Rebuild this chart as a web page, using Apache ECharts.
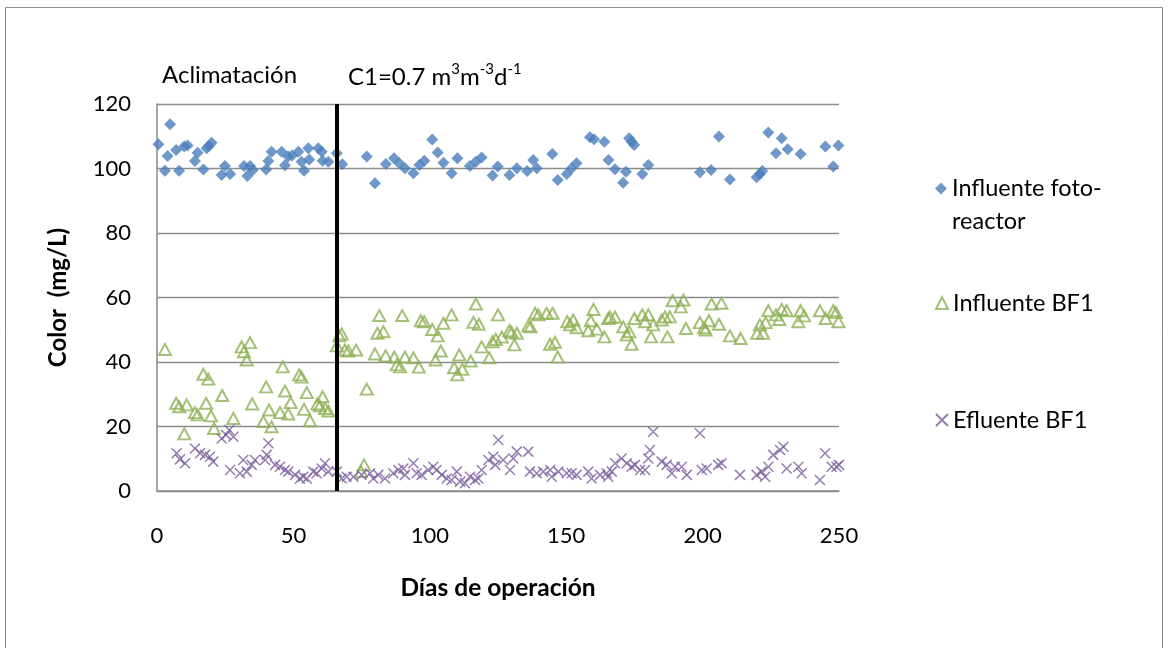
<!DOCTYPE html>
<html>
<head>
<meta charset="utf-8">
<script src="https://cdn.jsdelivr.net/npm/echarts@6/dist/echarts.min.js"></script>
<style>
html,body{margin:0;padding:0;background:#fff;}
#chart{width:1168px;height:648px;}
</style>
</head>
<body>
<div id="chart"></div>
<script>
// ---- Data ----
var xTicks = [0, 50, 100, 150, 200, 250];
var yTicks = [0, 20, 40, 60, 80, 100, 120];
var changeDay = 66;

var fotoDays = [0.5,2.9,3.9,4.8,7,8.1,10,11.2,13.9,14.9,17,18.2,19,20,23.7,24.9,26.8,31.9,33.1,34.1,35.1,40,40.8,42,45.7,46.9,48.1,49.5,51.8,53,53.9,55.5,55.8,59.1,60.4,60.7,62.8,65.9,67.9,76.9,79.9,83.9,86.9,88.8,90.9,94,96.2,98,100.9,102.9,105,108,110.1,114.7,116.9,119,123,124.9,129.2,131.9,135.7,137.9,139.2,144.9,146.9,150.2,152,153.8,158.7,160.2,164,165.5,167.9,170.9,171.9,173.1,174,174.9,177.9,180.1,199,203.1,206,210,219.8,221,221.9,224.1,226.9,229,231.2,235.9,245,247.9,249.8];
var fotoVals = [107.5,99.3,103.9,113.7,105.7,99.3,106.8,107.1,102.3,104.9,99.7,106.3,107,108,98,100.8,98.3,100.8,97.7,100.8,99.5,99.7,102.3,105.2,105.2,101,103.7,104,105.2,102.1,99.3,106.3,102.8,106.3,105.2,102.4,102.1,104.7,101.3,103.7,95.4,101.4,103.2,101.6,100.1,98.5,101.1,102.4,109,105,101.8,98.5,103.2,100.8,102.1,103.4,97.8,100.6,98,100.1,99.2,102.6,100.1,104.5,96.4,98.3,100.1,101.6,109.7,109.1,108.3,102.6,99.8,95.6,99,109.4,108.3,107.3,98.3,101.1,98.8,99.5,109.9,96.6,97.3,98.3,99.2,111.2,104.7,109.4,106,104.5,106.8,100.6,107.1];

var bf1InDays = [2.9,7,8.1,10,10.9,13.9,14.9,17,18,18.8,19.8,20.9,23.9,28,31,31.9,32.9,34.1,34.9,39,40,41.1,42,45.1,46.1,46.9,48.1,49,52.1,53,53.9,54.9,56.1,58.8,59.7,60.7,61.6,62.8,65.9,66.8,67.7,68.9,70.1,73,74.8,75.9,76.9,79.9,80.8,81.5,83,83.8,87,87.9,89.1,89.9,90.9,94,96,96.7,97.9,100.9,102.1,102.9,104,105,108,108.9,110.1,110.8,111.9,115,116,116.9,118,119,121.8,123,124.2,125,126.4,129.2,130,131,131.9,136.1,136.9,138.6,139.8,142.8,144.1,145,145.9,146.9,150.4,151.4,152.6,153.8,158.1,159,160,161.2,164,165.4,166.1,167.9,170.9,172.2,173.1,174,175,177.9,178.9,180.1,181.1,181.9,185,186.2,187.1,188,189,192,193,193.9,199,200.5,201.1,202.3,203.3,206,206.9,210,213.9,220,221,222.2,223.1,224.1,226.9,228.1,229,230.8,235.1,235.9,237.2,243,245.1,247.9,248.9,249.8];
var bf1InVals = [43.9,27.2,26.1,17.7,26.7,24.3,23.6,36.2,27.2,34.7,23.3,19.4,29.6,22.5,44.7,43.2,40.6,46,27,21.5,32.3,25.1,19.9,24.3,38.5,31,23.9,27.4,36,35.3,25.3,30.5,21.8,27,26.4,29.2,25.6,24.8,45,48.1,48.7,43.7,43.4,43.7,6,8.1,31.6,42.5,48.9,54.4,49.4,41.9,41.5,39.1,38.5,54.4,41.5,41.3,38.4,52.8,52.5,50.1,40.6,48.1,43.4,52,54.6,38.2,36,42.2,37.7,40.3,52.3,58,51.7,44.7,41.3,46.3,47,54.6,47.7,49.7,49.2,45.3,48.9,51.2,50.9,55.1,54.6,55.1,45.5,55.1,46.1,41.5,52.5,51.5,53,50.6,49.7,52.8,56.3,50.2,47.8,53.5,53.9,53.9,50.9,48.4,49.4,45.5,53.5,54.6,52.5,54.6,47.8,51.5,53,54,47.8,54,59,57.1,59.2,50.4,52.2,50.6,49.9,52.8,58,51.7,58.2,48.1,47.3,48.9,51.5,48.9,52.2,55.9,54.6,53.2,56.3,55.9,52.5,55.9,54.3,55.9,53.5,55.9,55.3,52.5];

var bf1OutDays = [7.2,8.4,10.3,13.9,15.8,17.6,19.4,20.6,23.7,25.3,26.5,28,26.8,30.4,31.6,32.9,34.7,35.9,39.6,40.2,40.8,43.3,45.1,46.9,48.1,50.6,52.4,53.6,54.9,57.3,58.5,60.4,61.6,62.8,65.9,67.7,69.5,72,75,78.1,79.3,81.1,83.6,86.6,88.5,90.3,90.9,94,95.2,97,99.4,101.3,102.5,104.4,106.2,108,109.9,111.1,112.9,114.7,116.6,117.8,119,121.5,123.3,124,125.1,126.9,129.4,130.6,131.9,136.1,136.7,139.2,141.6,144.1,144.7,147.1,150.2,152,153.8,158.1,159.3,162.4,164.8,165.4,166.7,167.9,170.3,172.2,174,175.2,177.1,178.9,180.1,180.7,181.9,185,186.8,188.7,189.9,192.3,194.2,199,199.7,201.5,205.7,207,213.7,219.8,221.6,222.9,224.1,225.9,228.4,229.6,230.8,235.1,236.3,243,244.9,247.3,249.1,250];
var bf1OutVals = [11.7,9.8,8.6,13.2,11.7,11.2,10.6,9.1,16.3,17.4,18.9,16.8,6.5,5.5,9.6,6,8.1,9.6,9.6,11.2,14.8,8.1,7.5,6.5,6,5,3.9,4.4,3.9,6,5.5,7,8.6,6,6,3.9,4.4,4.4,5,5.5,3.9,5,3.9,5.5,6.5,7,5,8.6,5.5,5,6.5,7.5,6.5,5,3.9,3.4,6,2.9,2.4,4.4,3.4,3.9,6.5,9.6,10.6,8.1,15.8,9.6,6.5,10.1,12.2,12.2,6,5.5,6,6.5,4.4,6,5.5,5.5,5,6,3.9,5,5.5,4.4,6,8.6,10.1,8.6,7.5,8.1,6.5,6.5,10.1,12.7,18.4,9.1,8.1,5.5,7.5,7.5,5,17.9,6.5,7,8.1,8.6,5,5,6,4.4,7.5,11.2,12.7,13.7,7,7.5,5.5,3.4,11.7,7.5,7.5,8.1];

function pairs(xs, ys) { return xs.map(function (x, i) { return [x, ys[i]]; }); }

var FONT = 'Lato, "Liberation Sans", sans-serif';
var chart = echarts.init(document.getElementById('chart'));

var option = {
  backgroundColor: '#ffffff',
  animation: false,
  textStyle: { fontFamily: FONT },
  grid: { left: 157, right: 329, top: 104, bottom: 157, containLabel: false },
  xAxis: {
    type: 'value', min: xTicks[0], max: xTicks[xTicks.length - 1], interval: 50,
    name: 'Días de operación', nameLocation: 'middle', nameGap: 85,
    nameTextStyle: { fontFamily: FONT, fontSize: 24.5, fontWeight: 'bold', color: '#000' },
    axisLine: { lineStyle: { color: '#888888', width: 1.5 } },
    axisTick: { show: false },
    splitLine: { show: false },
    axisLabel: { fontFamily: FONT, fontSize: 22, color: '#000', margin: 34 }
  },
  yAxis: {
    type: 'value', min: yTicks[0], max: yTicks[yTicks.length - 1], interval: 20,
    name: 'Color  (mg/L)', nameLocation: 'middle', nameGap: 87, nameRotate: 90,
    nameTextStyle: { fontFamily: FONT, fontSize: 24, fontWeight: 'bold', color: '#000' },
    axisLine: { show: true, lineStyle: { color: '#888888', width: 1.5 } },
    axisTick: { show: false },
    splitLine: { show: true, lineStyle: { color: '#8c8c8c', width: 1.3 } },
    axisLabel: { fontFamily: FONT, fontSize: 22, color: '#000', margin: 26 }
  },
  legend: [
    {
      data: ['Influente foto-reactor'], orient: 'vertical', left: 930, top: 134,
      itemWidth: 12, itemHeight: 12, itemGap: 0,
      formatter: function () { return ' \nInfluente foto-\nreactor'; },
      textStyle: { fontFamily: FONT, fontSize: 23.5, color: '#000', lineHeight: 33 }
    },
    {
      data: ['Influente BF1'], orient: 'vertical', left: 930, top: 286,
      itemWidth: 12, itemHeight: 12,
      textStyle: { fontFamily: FONT, fontSize: 23.5, color: '#000' }
    },
    {
      data: ['Efluente BF1'], orient: 'vertical', left: 930, top: 403,
      itemWidth: 12, itemHeight: 12,
      textStyle: { fontFamily: FONT, fontSize: 23.5, color: '#000' }
    }
  ],
  graphic: [
    {
      type: 'rect', silent: true, z: -1,
      shape: { x: 5.5, y: 7.5, width: 1157, height: 700 },
      style: { fill: 'none', stroke: '#8e8e8e', lineWidth: 1 }
    },
    {
      type: 'text', left: 162, top: 63,
      style: { text: 'Aclimatación', fontFamily: FONT, fontSize: 24, fill: '#000' }
    },
    {
      type: 'text', left: 348, top: 62,
      style: {
        text: '{n|C1=0.7 m}{s|3}{n|m}{s|-3}{n|d}{s|-1}',
        fill: '#000',
        rich: {
          n: { fontFamily: FONT, fontSize: 24, lineHeight: 30, fill: '#000' },
          s: { fontFamily: FONT, fontSize: 15, lineHeight: 15, verticalAlign: 'top', fill: '#000' }
        }
      }
    }
  ],
  series: [
    {
      name: 'Influente foto-reactor', type: 'scatter', symbol: 'diamond', symbolSize: 12,
      itemStyle: { color: '#4A7EBB' },
      data: pairs(fotoDays, fotoVals),
      markLine: {
        silent: true, symbol: ['none', 'none'], label: { show: false },
        lineStyle: { color: '#000', width: 4, type: 'solid' },
        data: [[{ coord: [changeDay, yTicks[0]] }, { coord: [changeDay, yTicks[yTicks.length - 1]] }]]
      }
    },
    {
      name: 'Influente BF1', type: 'scatter', symbol: 'triangle', symbolSize: [12, 11],
      itemStyle: { color: 'rgba(0,0,0,0)', borderColor: '#8DB054', borderWidth: 2 },
      data: pairs(bf1InDays, bf1InVals)
    },
    {
      name: 'Efluente BF1', type: 'scatter', symbol: 'path://M0,0L10,10M10,0L0,10', symbolSize: 10,
      itemStyle: { color: 'rgba(0,0,0,0)', borderColor: '#7A5C9E', borderWidth: 1.5 },
      data: pairs(bf1OutDays, bf1OutVals)
    }
  ]
};
chart.setOption(option);
</script>
</body>
</html>
